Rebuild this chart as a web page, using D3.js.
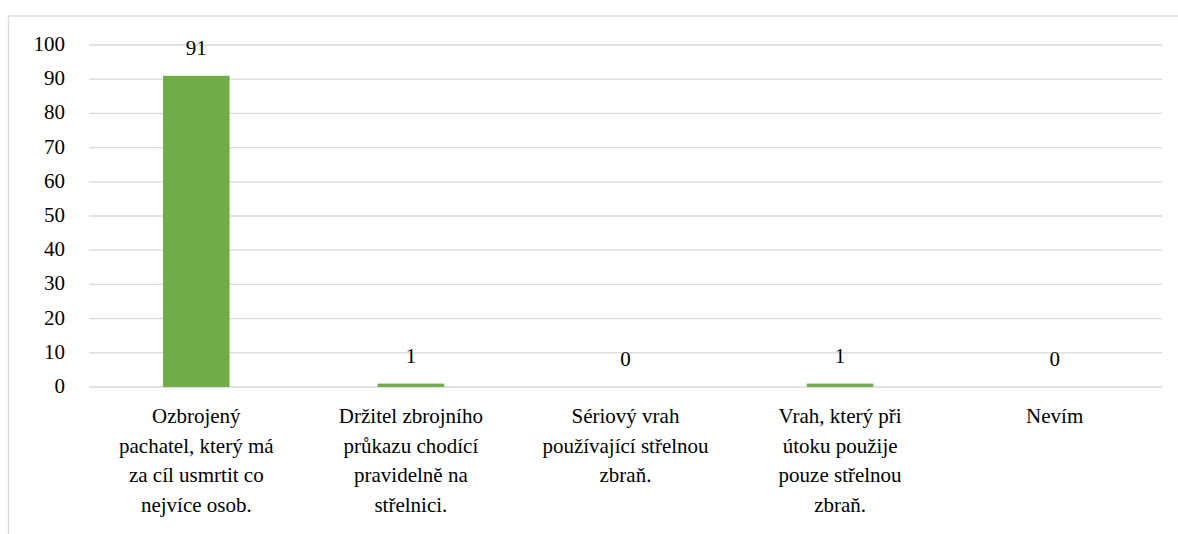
<!DOCTYPE html>
<meta charset="utf-8">
<style>
body { margin: 0; background: #fff; }
#chart { position: relative; width: 1178px; height: 534px; overflow: hidden; }
#chart svg { position: absolute; left: 0; top: 0; }
.lab {
  position: absolute;
  font-family: "Liberation Serif", "Times New Roman", serif;
  font-size: 21px;
  line-height: 29.5px;
  color: #000;
  white-space: pre;
}
</style>
<body>
<div id="chart"></div>
<script src="https://d3js.org/d3.v7.min.js"></script>
<script>

// chart data
var categories = [
  "Ozbrojený\npachatel, který má\nza cíl usmrtit co\nnejvíce osob.",
  "Držitel zbrojního\nprůkazu chodící\npravidelně na\nstřelnici.",
  "Sériový vrah\npoužívající střelnou\nzbraň.",
  "Vrah, který při\nútoku použije\npouze střelnou\nzbraň.",
  "Nevím"
];
var values = [91, 1, 0, 1, 0];
var yTicks = [0, 10, 20, 30, 40, 50, 60, 70, 80, 90, 100];

var W = 1178, H = 534;
var margin = {top: 45, left: 89, right: 16, bottom: 147};
var height = H - margin.top - margin.bottom;

var chart = d3.select("#chart");
var svg = chart.append("svg")
    .attr("width", W)
    .attr("height", H);

// chart area border (runs off the right and bottom edges)
svg.append("rect")
    .attr("x", 8.5).attr("y", 16)
    .attr("width", W).attr("height", H)
    .attr("fill", "none")
    .attr("stroke", "#d9d9d9")
    .attr("stroke-width", 1.3);

var x = d3.scaleBand()
    .domain(d3.range(categories.length))
    .range([margin.left, W - margin.right])
    .paddingInner(0.69)
    .paddingOuter(0.345);

var y = d3.scaleLinear().domain([0, 100]).range([margin.top + height, margin.top]);

// gridlines
svg.selectAll("line.grid")
  .data(yTicks)
  .enter().append("line")
    .attr("class", "grid")
    .attr("x1", margin.left).attr("x2", W - margin.right)
    .attr("y1", function(d) { return y(d); })
    .attr("y2", function(d) { return y(d); })
    .attr("stroke", "#d9d9d9")
    .attr("stroke-width", 1.3);

// bars
svg.selectAll("rect.bar")
  .data(values)
  .enter().append("rect")
    .attr("class", "bar")
    .attr("x", function(d, i) { return x(i); })
    .attr("width", x.bandwidth())
    .attr("y", function(d) { return y(d); })
    .attr("height", function(d) { return y(0) - y(d); })
    .attr("fill", "#70ad47");

// y labels (html text, right aligned)
chart.selectAll("div.ylab")
  .data(yTicks)
  .enter().append("div")
    .attr("class", "lab ylab")
    .style("right", (W - margin.left + 24) + "px")
    .style("top", function(d) { return (y(d) - 15) + "px"; })
    .style("text-align", "right")
    .text(function(d) { return d; });

// value labels
chart.selectAll("div.vlab")
  .data(values)
  .enter().append("div")
    .attr("class", "lab vlab")
    .style("left", function(d, i) { return (x(i) + x.bandwidth() / 2 - 50) + "px"; })
    .style("width", "100px")
    .style("text-align", "center")
    .style("top", function(d) { return (y(d) - 42) + "px"; })
    .text(function(d) { return d; });

// category labels
chart.selectAll("div.clab")
  .data(categories)
  .enter().append("div")
    .attr("class", "lab clab")
    .style("left", function(d, i) { return (x(i) + x.bandwidth() / 2 - 105) + "px"; })
    .style("width", "210px")
    .style("text-align", "center")
    .style("top", (y(0) + 15) + "px")
    .text(function(d) { return d; });

</script>
</body>
